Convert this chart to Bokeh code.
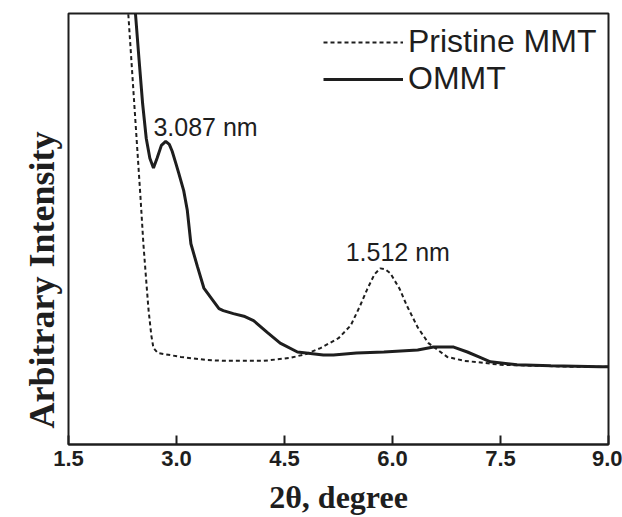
from bokeh.plotting import figure
from bokeh.models import Range1d, Label, Legend, LegendItem, FixedTicker, Title
from bokeh.embed import file_html
from bokeh.resources import INLINE

# ---- data ----
pristine_x = [2.28, 2.33, 2.40, 2.45, 2.50, 2.54, 2.58, 2.61, 2.65, 2.68, 2.74, 3.06, 3.40, 3.65,
              4.21, 4.58, 4.80, 5.00, 5.25, 5.42, 5.55, 5.65, 5.75, 5.83, 5.90, 5.97, 6.10, 6.20,
              6.35, 6.50, 6.76, 7.00, 7.26, 7.50, 8.00, 8.50, 9.00]
pristine_y = [551, 438, 361, 306, 251, 204, 166, 138, 111, 98, 93, 89, 86, 85,
              85, 88, 92, 98, 108, 121, 141, 158, 173, 179, 178, 174, 158, 141,
              119, 103, 89, 85, 83, 81, 80, 79, 79]

ommt_x = [2.40, 2.43, 2.48, 2.53, 2.58, 2.63, 2.68, 2.73, 2.79, 2.85, 2.90, 2.94, 2.99, 3.03,
          3.10, 3.15, 3.20, 3.29, 3.38, 3.50, 3.59, 3.65, 3.79, 3.95, 4.07, 4.26, 4.44, 4.68,
          5.04, 5.18, 5.50, 5.88, 6.35, 6.57, 6.85, 7.04, 7.20, 7.36, 7.73, 8.20, 8.89, 9.00]
ommt_y = [520, 438, 391, 346, 311, 291, 281, 291, 304, 308, 305, 298, 286, 276,
          258, 238, 204, 181, 159, 147, 138, 136, 133, 130, 126, 114, 103, 94,
          91, 91, 93, 94, 96, 99, 99, 94, 89, 84, 81, 80, 79, 79]

x_ticks = [1.5, 3.0, 4.5, 6.0, 7.5, 9.0]
series_names = ["Pristine MMT", "OMMT"]
peak_labels = ["3.087 nm", "1.512 nm"]
peak_label_pos = [(2.68, 323), (5.35, 196)]
y_title = "Arbitrary Intensity"

INK = "#1e1e1e"

p = figure(width=622, height=517, output_backend="svg", toolbar_location=None,
           x_range=Range1d(1.5, 9.0), y_range=Range1d(0, 438),
           min_border_left=68, min_border_right=14, min_border_top=13, min_border_bottom=40)

p.grid.visible = False
p.background_fill_color = "white"
p.border_fill_color = "white"
p.outline_line_color = INK
p.outline_line_width = 2

p.yaxis.visible = False

xa = p.xaxis[0]
xa.ticker = FixedTicker(ticks=x_ticks)
xa.major_label_overrides = {t: f"{t:.1f}" for t in x_ticks}
xa.axis_line_color = INK
xa.axis_line_width = 2
xa.major_tick_line_color = INK
xa.major_tick_line_width = 2
xa.major_tick_in = 9
xa.major_tick_out = 0
xa.minor_tick_line_color = None
xa.major_label_text_font = "Liberation Sans"
xa.major_label_text_font_style = "bold"
xa.major_label_text_font_size = "22px"
xa.major_label_text_color = INK
xa.major_label_standoff = 6
xa.axis_label = "2θ, degree"
xa.axis_label_text_font = "Liberation Serif"
xa.axis_label_text_font_style = "bold"
xa.axis_label_text_font_size = "32px"
xa.axis_label_text_color = INK
xa.axis_label_standoff = 10

r1 = p.line(pristine_x, pristine_y, line_color=INK, line_width=2, line_dash="4 3")
r2 = p.line(ommt_x, ommt_y, line_color=INK, line_width=3)

legend = Legend(items=[LegendItem(label=series_names[0], renderers=[r1]),
                       LegendItem(label=series_names[1], renderers=[r2])],
                location=(255, 347))
legend.border_line_color = None
legend.background_fill_alpha = 0
legend.padding = 0
legend.margin = 0
legend.spacing = 0
legend.glyph_width = 80
legend.glyph_height = 32
legend.label_height = 32
legend.label_standoff = 5
legend.label_text_font = "Liberation Sans"
legend.label_text_font_size = "32px"
legend.label_text_color = INK
p.add_layout(legend)

for txt, (lx, ly) in zip(peak_labels, peak_label_pos):
    p.add_layout(Label(x=lx, y=ly, text=txt, text_font="Liberation Sans",
                       text_font_size="25px", text_color=INK,
                       text_align="left", text_baseline="alphabetic"))

ytitle = Title(text=y_title, align="left", offset=16, standoff=10,
               vertical_align="top",
               text_font="Liberation Serif", text_font_style="bold",
               text_font_size="36px", text_color=INK)
p.add_layout(ytitle, "left")

open("out.html", "w").write(file_html(p, INLINE))
